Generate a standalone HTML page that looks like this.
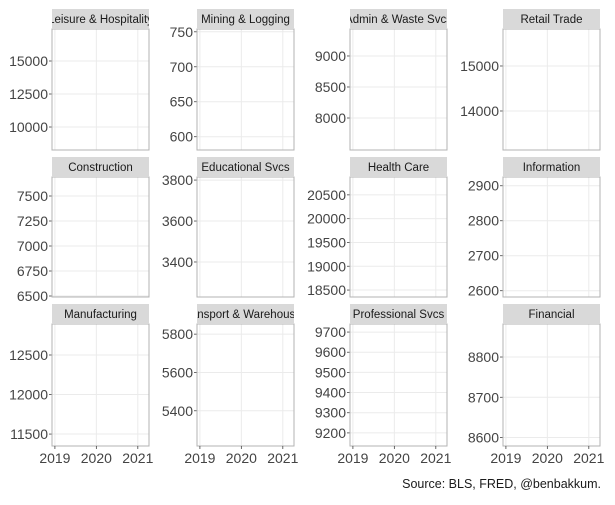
<!DOCTYPE html>
<html><head><meta charset="utf-8">
<style>
body{margin:0;background:#fff;width:615px;height:500px;overflow:hidden;font-family:"Liberation Sans",sans-serif;}
svg text{font-family:"Liberation Sans",sans-serif;}
</style></head>
<body>
<svg id="chart" width="615" height="500" xmlns="http://www.w3.org/2000/svg"></svg>
<script>
const panelTitles = ["Leisure & Hospitality","Mining & Logging","Admin & Waste Svcs","Retail Trade","Construction","Educational Svcs","Health Care","Information","Manufacturing","Transport & Warehousing","Professional Svcs","Financial"];
const yMins = [8258,581,7484,13133,6490,3229,18354,2582,11349,5216,9135,8579];
const yMaxs = [17424,754,9435,15822,7690,3815,20875,2925,12892,5853,9740,8882];
const yTicks = [[10000,12500,15000],[600,650,700,750],[8000,8500,9000],[14000,15000],[6500,6750,7000,7250,7500],[3400,3600,3800],[18500,19000,19500,20000,20500],[2600,2700,2800,2900],[11500,12000,12500],[5400,5600,5800],[9200,9300,9400,9500,9600,9700],[8600,8700,8800]];
const xTicks = [2019,2020,2021];
const xMin = 2018.93, xMax = 2021.27;

const NS="http://www.w3.org/2000/svg";
const svg=document.getElementById('chart');
function mk(tag,attrs,parent){const e=document.createElementNS(NS,tag);for(const k in attrs)e.setAttribute(k,attrs[k]);(parent||svg).appendChild(e);return e;}
const colX=[52,197,350,503], pw=97;
const rowTop=[29,177,324], ph=[121,120,122];
panelTitles.forEach((t,i)=>{
  const c=i%4,r=Math.floor(i/4);
  const x0=colX[c],y0=rowTop[r],h=ph[r];
  const g=mk('g',{});
  
  
  const ys=v=>y0+h-(v-yMins[i])/(yMaxs[i]-yMins[i])*h;
  const xs=v=>x0+(v-xMin)/(xMax-xMin)*pw;
  mk('rect',{x:x0,y:y0,width:pw,height:h,fill:'#fff'},g);
  xTicks.forEach(v=>mk('line',{x1:xs(v),x2:xs(v),y1:y0,y2:y0+h,stroke:'#ebebeb','stroke-width':1},g));
  yTicks[i].forEach(v=>{
    const y=ys(v);
    mk('line',{x1:x0,x2:x0+pw,y1:y,y2:y,stroke:'#ebebeb','stroke-width':1},g);
    mk('line',{x1:x0-3,x2:x0,y1:y,y2:y,stroke:'#444','stroke-width':0.8},g);
    const tl=mk('text',{x:x0-4,y:y+5,'text-anchor':'end','font-size':14,fill:'#444'},g);
    tl.textContent=v;
    
    
  });
  mk('rect',{x:x0,y:y0,width:pw,height:h,fill:'none',stroke:'#b3b3b3','stroke-width':1},g);
  const clipId='clip'+i;
  const cp=mk('clipPath',{id:clipId},g);mk('rect',{x:x0,y:y0-20,width:pw,height:20},cp);
  mk('rect',{x:x0,y:y0-20,width:pw,height:20,fill:'#d9d9d9'},g);
  const st=mk('text',{x:x0+pw/2,y:y0-6,'text-anchor':'middle','font-size':11.5,fill:'#1a1a1a','clip-path':'url(#'+clipId+')'},g);
  st.textContent=t;
  
  
  if(r===2){
    xTicks.forEach(v=>{
      mk('line',{x1:xs(v),x2:xs(v),y1:y0+h,y2:y0+h+3,stroke:'#444','stroke-width':0.8},g);
      const xl=mk('text',{x:xs(v),y:y0+h+17,'text-anchor':'middle','font-size':14,fill:'#444'},g);
      xl.textContent=v;
      
      
    });
  }
});
const cap=mk('text',{x:601,y:488,'text-anchor':'end','font-size':12.5,fill:'#1a1a1a'});
cap.textContent='Source: BLS, FRED, @benbakkum.';


</script>
</body></html>
